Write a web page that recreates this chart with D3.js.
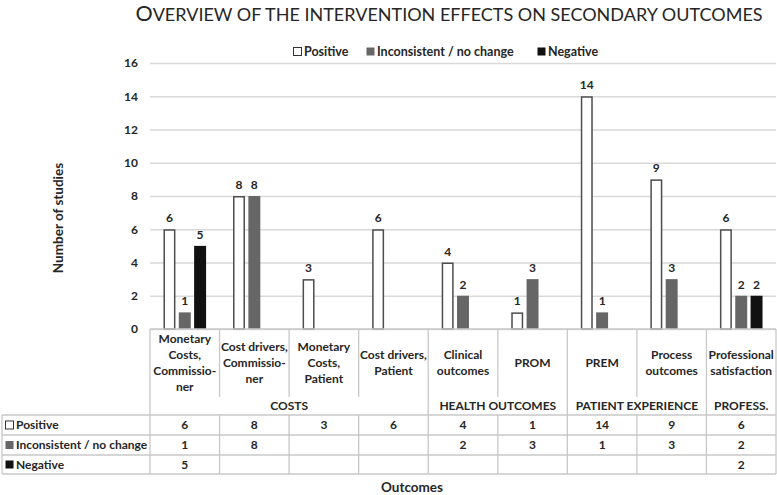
<!DOCTYPE html>
<html>
<head>
<meta charset="utf-8">
<script src="https://cdn.jsdelivr.net/npm/d3@7"></script>
<style>
  body { margin: 0; background: #fff; }
  text { font-family: Lato, "Open Sans", sans-serif; fill: #262626; }
</style>
</head>
<body>
<svg id="chart" width="777" height="495"></svg>
<script>
// data
var categories = ["Monetary Costs, Commissioner", "Cost drivers, Commissioner", "Monetary Costs, Patient",
    "Cost drivers, Patient", "Clinical outcomes", "PROM", "PREM", "Process outcomes", "Professional satisfaction"];
var categoryLines = [["Monetary", "Costs,", "Commissio-", "ner"], ["Cost drivers,", "Commissio-", "ner"],
    ["Monetary", "Costs,", "Patient"], ["Cost drivers,", "Patient"], ["Clinical", "outcomes"], ["PROM"],
    ["PREM"], ["Process", "outcomes"], ["Professional", "satisfaction"]];
var groups = ["COSTS", "HEALTH OUTCOMES", "PATIENT EXPERIENCE", "PROFESS."];
var groupSizes = [4, 2, 2, 1];
var series = ["Positive", "Inconsistent / no change", "Negative"];
var positive = [6, 8, 3, 6, 4, 1, 14, 9, 6];
var inconsistent = [1, 8, null, null, 2, 3, 1, 3, 2];
var negative = [5, null, null, null, null, null, null, null, 2];
var yTicks = [0, 2, 4, 6, 8, 10, 12, 14, 16];

var values = [positive, inconsistent, negative];
var fills = ["#ffffff", "#666666", "#111111"];
var strokes = ["#4d4d4d", "none", "none"];

var svg = d3.select('#chart');

var plotLeft = 150, plotRight = 776, plotTop = 63, plotBase = 329;
var rowTops = [415, 435, 455, 474];
var fs = '12px';

var x0 = d3.scaleBand()
    .domain(categories)
    .range([plotLeft, plotRight]);

var half = 21.3;
var x1 = d3.scaleBand()
    .domain(series)
    .range([x0.bandwidth() / 2 - half, x0.bandwidth() / 2 + half])
    .paddingInner(0.22);

var y = d3.scaleLinear()
    .domain([0, 16])
    .range([plotBase, plotTop]);

// title
var title = svg.append('text')
    .attr('x', 449)
    .attr('y', 21)
    .attr('text-anchor', 'middle')
    .style('font-size', '18px')
    .style('font-weight', 'normal');
title.append('tspan').style('font-size', '21.5px').text('O');
title.append('tspan').text('VERVIEW OF THE INTERVENTION EFFECTS ON SECONDARY OUTCOMES');

// gridlines + y ticks
var yAxis = d3.axisLeft(y)
    .tickValues(yTicks)
    .tickSize(-(plotRight - plotLeft))
    .tickPadding(12);

var gy = svg.append('g')
    .attr('transform', `translate(${plotLeft},0)`)
    .call(yAxis);
gy.select('.domain').remove();
gy.selectAll('.tick line').attr('stroke', '#d9d9d9').attr('stroke-width', 1.3);
gy.selectAll('.tick text')
    .style('font-size', '12px')
    .style('font-weight', 'bold')
    .style('font-family', 'Lato, sans-serif')
    .attr('fill', '#262626');

svg.append('text')
    .attr('transform', 'translate(58,218) rotate(-90)')
    .attr('text-anchor', 'middle')
    .attr('dy', '0.35em')
    .style('font-size', '13.5px')
    .style('font-weight', 'bold')
    .text('Number of studies');

// legend
var legendX = [293, 366, 537];
var legend = svg.append('g');
series.forEach(function(s, i) {
    legend.append('rect')
        .attr('x', legendX[i] + 0.5)
        .attr('y', 47.5)
        .attr('width', 8)
        .attr('height', 8)
        .attr('fill', fills[i])
        .attr('stroke', i === 0 ? '#333' : 'none');
    legend.append('text')
        .attr('x', legendX[i] + 11)
        .attr('y', 52)
        .attr('dy', '0.35em')
        .style('font-size', '12.5px')
        .style('font-weight', 'bold')
        .text(s);
});

// bars
series.forEach(function(s, i) {
    var pts = categories.map((c, j) => ({ c: c, v: values[i][j] })).filter(d => d.v != null);

    svg.selectAll('.bar' + i)
        .data(pts)
        .enter()
        .append('rect')
        .attr('x', d => x0(d.c) + x1(s) + (i === 0 ? 0.75 : 0))
        .attr('y', d => y(d.v) + (i === 0 ? 0.75 : 0))
        .attr('width', x1.bandwidth() - (i === 0 ? 1.5 : 0))
        .attr('height', d => y(0) - y(d.v) - (i === 0 ? 0.75 : 0))
        .attr('fill', fills[i])
        .attr('stroke', strokes[i])
        .attr('stroke-width', 1.5);

    svg.selectAll('.lab' + i)
        .data(pts)
        .enter()
        .append('text')
        .attr('x', d => x0(d.c) + x1(s) + x1.bandwidth() / 2)
        .attr('y', d => y(d.v) - 7)
        .attr('text-anchor', 'middle')
        .style('font-size', '12px')
        .style('font-weight', 'bold')
        .text(d => d.v);
});

// data table
var lineColor = '#c8c8c8';
var tbl = svg.append('g').attr('stroke', lineColor).attr('stroke-width', 1.3);

tbl.append('line').attr('x1', plotLeft).attr('x2', plotRight).attr('y1', plotBase).attr('y2', plotBase);
rowTops.forEach(function(t) {
    tbl.append('line').attr('x1', 2).attr('x2', plotRight).attr('y1', t).attr('y2', t);
});
tbl.append('line').attr('x1', 2).attr('x2', 2).attr('y1', rowTops[0]).attr('y2', rowTops[3]);

var groupEdges = [0];
groupSizes.forEach((n, i) => groupEdges.push(groupEdges[i] + n));

categories.forEach(function(c, j) {
    var isGroupEdge = groupEdges.indexOf(j) >= 0;
    tbl.append('line')
        .attr('x1', x0(c)).attr('x2', x0(c))
        .attr('y1', isGroupEdge ? plotBase : rowTops[0])
        .attr('y2', rowTops[3]);
    if (!isGroupEdge) {
        tbl.append('line')
            .attr('x1', x0(c)).attr('x2', x0(c))
            .attr('y1', plotBase).attr('y2', 397);
    }
});
tbl.append('line').attr('x1', plotRight).attr('x2', plotRight).attr('y1', plotBase).attr('y2', rowTops[3]);

// category labels
categoryLines.forEach(function(lines, j) {
    var cx = x0(categories[j]) + x0.bandwidth() / 2;
    var y0 = 363 - (lines.length - 1) * 8;
    lines.forEach(function(l, k) {
        svg.append('text')
            .attr('x', cx)
            .attr('y', y0 + k * 16)
            .attr('dy', '0.35em')
            .attr('text-anchor', 'middle')
            .style('font-size', fs)
            .style('font-weight', 'bold')
            .text(l);
    });
});

// group labels
groups.forEach(function(g, i) {
    var a = x0(categories[groupEdges[i]]);
    var b = groupEdges[i + 1] < categories.length ? x0(categories[groupEdges[i + 1]]) : plotRight;
    svg.append('text')
        .attr('x', (a + b) / 2)
        .attr('y', 406)
        .attr('dy', '0.35em')
        .attr('text-anchor', 'middle')
        .style('font-size', fs)
        .style('font-weight', 'bold')
        .text(g);
});

// table rows
series.forEach(function(s, i) {
    var cy = (rowTops[i] + rowTops[i + 1]) / 2;
    svg.append('rect')
        .attr('x', 5.5)
        .attr('y', cy - 4)
        .attr('width', 8)
        .attr('height', 8)
        .attr('fill', fills[i])
        .attr('stroke', i === 0 ? '#333' : 'none');
    svg.append('text')
        .attr('x', 16)
        .attr('y', cy)
        .attr('dy', '0.35em')
        .style('font-size', fs)
        .style('font-weight', 'bold')
        .text(s);
    categories.forEach(function(c, j) {
        if (values[i][j] == null) return;
        svg.append('text')
            .attr('x', x0(c) + x0.bandwidth() / 2)
            .attr('y', cy)
            .attr('dy', '0.35em')
            .attr('text-anchor', 'middle')
            .style('font-size', fs)
            .style('font-weight', 'bold')
            .text(values[i][j]);
    });
});

svg.append('text')
    .attr('x', 412)
    .attr('y', 487)
    .attr('dy', '0.35em')
    .attr('text-anchor', 'middle')
    .style('font-size', '13.5px')
    .style('font-weight', 'bold')
    .text('Outcomes');
</script>
</body>
</html>
